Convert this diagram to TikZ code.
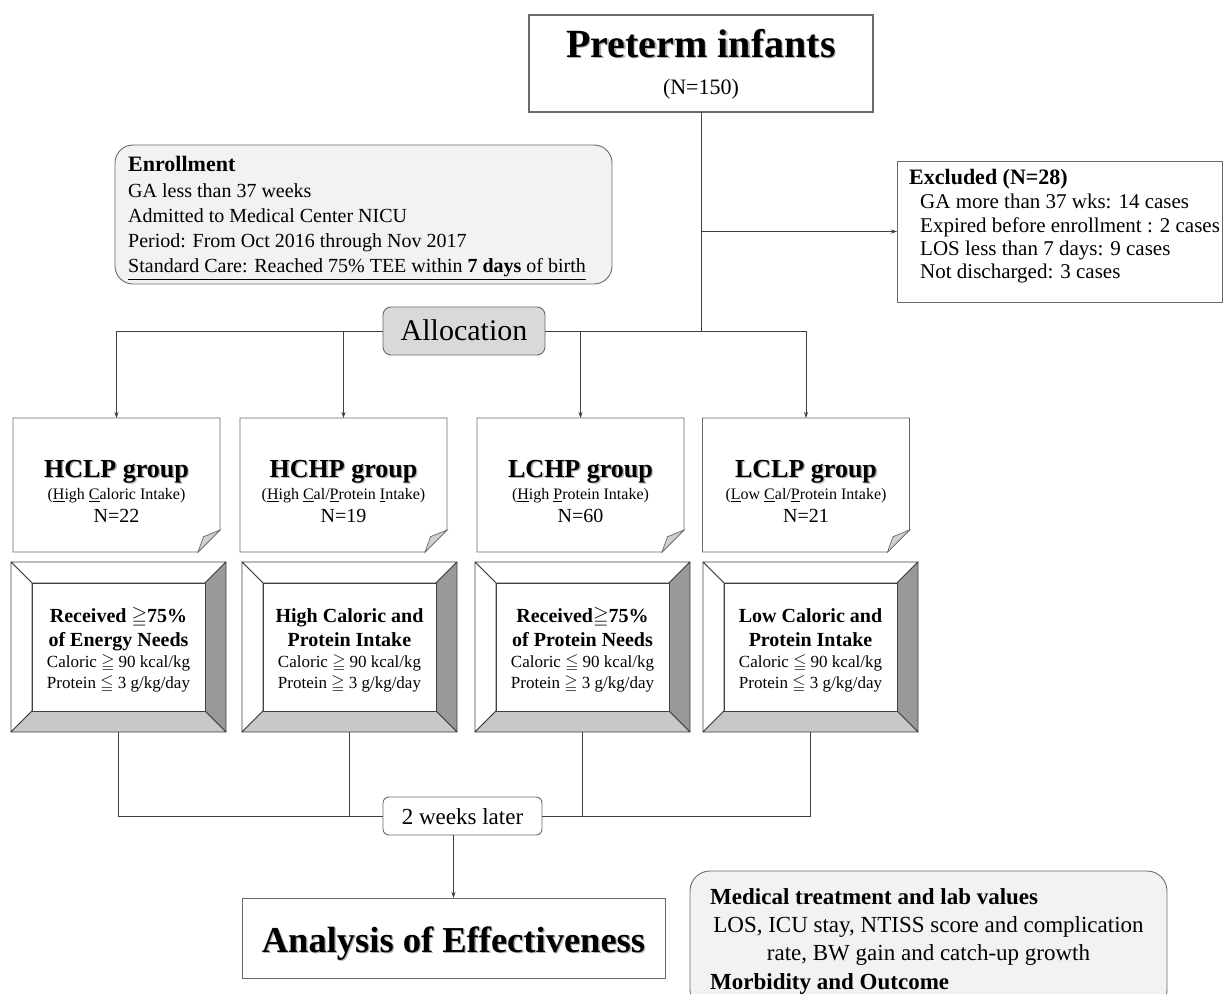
\documentclass[tikz,border=0pt]{standalone}
\usepackage{fontspec}
\setmainfont{Liberation Serif}
\usepackage{amssymb}
\usetikzlibrary{arrows.meta,calc}
\definecolor{ln}{HTML}{404040}
\definecolor{bd}{HTML}{6A6A6A}
\definecolor{lgray}{HTML}{F2F2F2}
\definecolor{agray}{HTML}{D9D9D9}
\definecolor{dkbevel}{HTML}{999999}
\definecolor{ltbevel}{HTML}{C8C8C8}
\definecolor{foldc}{HTML}{D0D0D0}
\newcommand\fs[2]{\fontsize{#1}{#2}\selectfont}
\newcommand\shtx[1]{\leavevmode\rlap{\kern1.3pt\raisebox{-1.3pt}{\textcolor{black!30}{#1}}}#1}
\newcommand\mygeq{\ensuremath{\geqq}}
\newcommand\myleq{\ensuremath{\leqq}}
\newcommand\drawnote[1]{%
  \draw[fill=white,draw=bd,line width=0.9pt] (#1.north west) -- (#1.north east) -- ($(#1.south east)+(0,-22)$) -- ($(#1.south east)+(-22,0)$) -- (#1.south west) -- cycle;
  \draw[fill=foldc,draw=bd,line width=0.7pt] ($(#1.south east)+(-22,0)$) -- ($(#1.south east)+(-16.5,-15.3)$) -- ($(#1.south east)+(0,-22)$) -- cycle;}
\newcommand\drawbevel[1]{%
  \coordinate (#1i1) at ($(#1.north west)+(21,21)$);
  \coordinate (#1i2) at ($(#1.north east)+(-21,21)$);
  \coordinate (#1i3) at ($(#1.south east)+(-21,-21)$);
  \coordinate (#1i4) at ($(#1.south west)+(21,-21)$);
  \begin{scope}[draw=ln,line width=0.8pt,line join=round]
  \filldraw[fill=white] (#1.north west) -- (#1.north east) -- (#1i2) -- (#1i1) -- cycle;
  \filldraw[fill=white] (#1.north west) -- (#1i1) -- (#1i4) -- (#1.south west) -- cycle;
  \filldraw[fill=dkbevel] (#1.north east) -- (#1.south east) -- (#1i3) -- (#1i2) -- cycle;
  \filldraw[fill=ltbevel] (#1.south west) -- (#1i4) -- (#1i3) -- (#1.south east) -- cycle;
  \filldraw[fill=white] (#1i1) -- (#1i2) -- (#1i3) -- (#1i4) -- cycle;
  \end{scope}}
\begin{document}
\begin{tikzpicture}[x=1pt,y=-1pt,
  tx/.style={anchor=base,inner sep=0pt,text=black},
  txl/.style={anchor=base west,inner sep=0pt,text=black},
  conn/.style={draw=ln,line width=0.8pt},
  arr/.style={conn,-{Stealth[length=6pt,width=4pt]}},
  shapebox/.style={inner sep=0pt,outer sep=0pt},
  notebox/.style={shapebox,minimum width=207pt,minimum height=134pt},
  bevelbox/.style={shapebox,minimum width=215pt,minimum height=170pt}]
\useasboundingbox (0,0) rectangle (1223,993);
\clip (0,0) rectangle (1223,993);

% ---------- boxes ----------
\node[shapebox,draw=bd,line width=1.3pt,fill=white,minimum width=344pt,minimum height=97pt] (pre) at (701,63.5) {};
\node[tx,font=\fs{40}{44}\bfseries] (preA) at (701,57) {\shtx{Preterm infants}};
\node[tx,font=\fs{22}{24}] (preB) at (701,94) {(N=150)};

\node[shapebox,draw=bd,line width=0.9pt,fill=lgray,rounded corners=18pt,minimum width=497pt,minimum height=139pt] (enr) at (363.5,214.5) {};
\node[txl,font=\fs{22}{24}\bfseries] (enrA) at (128,171) {Enrollment};
\node[txl,font=\fs{20}{24}] (enrB) at (128,197) {GA less than 37 weeks};
\node[txl,font=\fs{20}{24}] (enrC) at (128,222) {Admitted to Medical Center NICU};
\node[txl,font=\fs{20}{24}] (enrD) at (128,247) {Period: From Oct 2016 through Nov 2017};
\node[txl,font=\fs{20}{24}] (enrE) at (128,272) {\underline{Standard Care: Reached 75\% TEE within \textbf{7 days} of birth}};

\node[shapebox,draw=bd,line width=1pt,fill=white,minimum width=325pt,minimum height=141pt] (excl) at (1059.5,231.5) {};
\node[txl,font=\fs{22}{24}\bfseries] (exA) at (909,184) {Excluded (N=28)};
\node[txl,font=\fs{21}{24}] (exB) at (920,208) {GA more than 37 wks: 14 cases};
\node[txl,font=\fs{21}{24}] (exC) at (920,232) {Expired before enrollment : 2 cases};
\node[txl,font=\fs{21}{24}] (exD) at (920,255) {LOS less than 7 days: 9 cases};
\node[txl,font=\fs{21}{24}] (exE) at (920,278) {Not discharged: 3 cases};

\node[shapebox,draw=bd,line width=0.9pt,fill=agray,rounded corners=8pt,minimum width=162pt,minimum height=48pt] (alloc) at (464,331) {};
\node[tx,font=\fs{30}{32}] (allocT) at (464,340) {Allocation};

% group notes
\node[notebox] (g1) at (116.5,485) {};
\node[notebox] (g2) at (343.5,485) {};
\node[notebox] (g3) at (580.5,485) {};
\node[notebox] (g4) at (806,485) {};
\drawnote{g1}\drawnote{g2}\drawnote{g3}\drawnote{g4}
\node[tx,font=\fs{26}{28}\bfseries] (g1a) at (116.5,477) {\shtx{HCLP group}};
\node[tx,font=\fs{16}{18}] (g1b) at (116.5,499) {(\underline{H}igh \underline{C}aloric Intake)};
\node[tx,font=\fs{20}{22}] (g1c) at (116.5,522.5) {N=22};
\node[tx,font=\fs{26}{28}\bfseries] (g2a) at (343.5,477) {\shtx{HCHP group}};
\node[tx,font=\fs{16}{18}] (g2b) at (343.5,499) {(\underline{H}igh \underline{C}al/\underline{P}rotein \underline{I}ntake)};
\node[tx,font=\fs{20}{22}] (g2c) at (343.5,522.5) {N=19};
\node[tx,font=\fs{26}{28}\bfseries] (g3a) at (580.5,477) {\shtx{LCHP group}};
\node[tx,font=\fs{16}{18}] (g3b) at (580.5,499) {(\underline{H}igh \underline{P}rotein Intake)};
\node[tx,font=\fs{20}{22}] (g3c) at (580.5,522.5) {N=60};
\node[tx,font=\fs{26}{28}\bfseries] (g4a) at (806,477) {\shtx{LCLP group}};
\node[tx,font=\fs{16}{18}] (g4b) at (806,499) {(\underline{L}ow \underline{C}al/\underline{P}rotein Intake)};
\node[tx,font=\fs{20}{22}] (g4c) at (806,522.5) {N=21};

% bevel boxes
\node[bevelbox] (b1) at (118.5,647) {};
\node[bevelbox] (b2) at (349.5,647) {};
\node[bevelbox] (b3) at (582.5,647) {};
\node[bevelbox] (b4) at (810.5,647) {};
\drawbevel{b1}\drawbevel{b2}\drawbevel{b3}\drawbevel{b4}
\node[tx,font=\fs{20}{22}\bfseries] (b1a) at (118.5,622.5) {Received \mygeq75\%};
\node[tx,font=\fs{20}{22}\bfseries] (b1b) at (118.5,646) {of Energy Needs};
\node[tx,font=\fs{17}{20}] (b1c) at (118.5,667.5) {Caloric \mygeq\ 90 kcal/kg};
\node[tx,font=\fs{17}{20}] (b1d) at (118.5,688) {Protein \myleq\ 3 g/kg/day};
\node[tx,font=\fs{20}{22}\bfseries] (b2a) at (349.5,622.5) {High Caloric and};
\node[tx,font=\fs{20}{22}\bfseries] (b2b) at (349.5,646) {Protein Intake};
\node[tx,font=\fs{17}{20}] (b2c) at (349.5,667.5) {Caloric \mygeq\ 90 kcal/kg};
\node[tx,font=\fs{17}{20}] (b2d) at (349.5,688) {Protein \mygeq\ 3 g/kg/day};
\node[tx,font=\fs{20}{22}\bfseries] (b3a) at (582.5,622.5) {Received\mygeq75\%};
\node[tx,font=\fs{20}{22}\bfseries] (b3b) at (582.5,646) {of Protein Needs};
\node[tx,font=\fs{17}{20}] (b3c) at (582.5,667.5) {Caloric \myleq\ 90 kcal/kg};
\node[tx,font=\fs{17}{20}] (b3d) at (582.5,688) {Protein \mygeq\ 3 g/kg/day};
\node[tx,font=\fs{20}{22}\bfseries] (b4a) at (810.5,622.5) {Low Caloric and};
\node[tx,font=\fs{20}{22}\bfseries] (b4b) at (810.5,646) {Protein Intake};
\node[tx,font=\fs{17}{20}] (b4c) at (810.5,667.5) {Caloric \myleq\ 90 kcal/kg};
\node[tx,font=\fs{17}{20}] (b4d) at (810.5,688) {Protein \myleq\ 3 g/kg/day};

\node[shapebox,draw=bd,line width=0.9pt,fill=white,rounded corners=6pt,minimum width=159pt,minimum height=38pt] (weeks) at (462.5,816) {};
\node[tx,font=\fs{23}{25}] (weeksT) at (462.5,824) {2 weeks later};

\node[shapebox,draw=bd,line width=1pt,fill=white,minimum width=423pt,minimum height=80pt] (ana) at (453.5,938) {};
\node[tx,font=\fs{36.5}{40}\bfseries] (anaT) at (453.5,952) {\shtx{Analysis of Effectiveness}};

\node[shapebox,draw=bd,line width=0.9pt,fill=lgray,rounded corners=20pt,minimum width=477pt,minimum height=139pt] (med) at (928.5,940.5) {};
\node[txl,font=\fs{23}{26}\bfseries] (medA) at (710,904.5) {Medical treatment and lab values};
\node[tx,font=\fs{23}{26}] (medB) at (928.5,932) {LOS, ICU stay, NTISS score and complication};
\node[tx,font=\fs{23}{26}] (medC) at (928.5,960.5) {rate, BW gain and catch-up growth};
\node[txl,font=\fs{23}{26}\bfseries] (medD) at (710,989.5) {Morbidity and Outcome};

% ---------- connectors ----------
\draw[conn] (pre.south) -- (pre.south |- alloc.east) -- (alloc.east);
\draw[arr] (pre.south |- excl.west) -- (excl.west);
\draw[arr] (alloc.west) -| (g1.north);
\draw[arr] (alloc.west -| g2.north) -- (g2.north);
\draw[arr] (alloc.east -| g3.north) -- (g3.north);
\draw[arr] (pre.south |- alloc.east) -| (g4.north);
\draw[conn] (b1.south) |- (weeks.west);
\draw[conn] (b2.south) -- (b2.south |- weeks.west);
\draw[conn] (b4.south) |- (weeks.east);
\draw[conn] (b3.south) -- (b3.south |- weeks.east);
\draw[arr] (ana.north |- weeks.south) -- (ana.north);
\end{tikzpicture}
\end{document}
